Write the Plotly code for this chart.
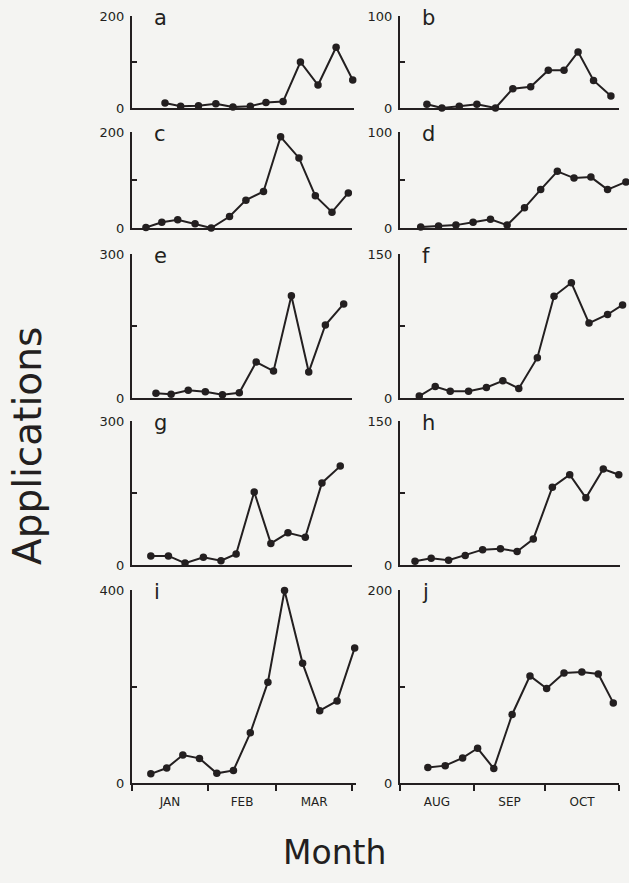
import plotly.graph_objects as go

# ---------------- data ----------------
panel_labels = ["a", "b", "c", "d", "e", "f", "g", "h", "i", "j"]

# x = day of the three-month period, y = number of applications
a_days = [13.5, 19.9, 27.2, 34.3, 41.3, 48.4, 54.8, 61.8, 68.9, 76.1, 83.5, 90.3]
a_vals = [11, 4, 5, 9, 2, 4, 12, 14, 100, 50, 132, 61]

b_days = [11.3, 17.6, 24.9, 32.3, 40.1, 47.4, 54.9, 62.3, 68.9, 74.8, 81.3, 88.6]
b_vals = [4, 0, 2, 4, 0, 21, 23, 41, 41, 61, 30, 13]

c_days = [5.7, 12.2, 18.7, 25.8, 32.4, 39.9, 46.6, 53.8, 60.8, 68.3, 75.0, 81.8, 88.5]
c_vals = [1, 12, 17, 9, 0, 24, 58, 76, 190, 146, 67, 33, 73]

d_days = [8.7, 16.2, 23.5, 30.7, 38.0, 45.0, 52.3, 59.1, 66.1, 73.1, 80.2, 87.2, 94.9]
d_vals = [1, 2, 3, 6, 9, 3, 21, 40, 59, 52, 53, 40, 48]

e_days = [9.8, 16.0, 23.0, 30.0, 37.0, 43.9, 50.8, 57.9, 65.2, 72.3, 79.1, 86.6]
e_vals = [10, 8, 16, 13, 7, 11, 75, 56, 213, 54, 152, 196]

f_days = [8.1, 14.8, 21.1, 28.8, 36.3, 43.2, 49.9, 57.7, 64.7, 72.0, 79.4, 87.2, 93.5]
f_vals = [2, 12, 7, 7, 11, 18, 10, 42, 106, 120, 78, 87, 97]

g_days = [7.7, 14.9, 21.7, 29.2, 36.4, 42.6, 50.0, 56.8, 63.8, 70.9, 77.7, 85.2]
g_vals = [19, 19, 4, 16, 9, 23, 152, 45, 67, 58, 171, 206]

h_days = [6.3, 13.1, 20.4, 27.4, 34.7, 42.2, 49.2, 56.0, 64.0, 71.3, 78.1, 85.4, 91.9]
h_vals = [4, 7, 5, 10, 16, 17, 14, 27, 81, 94, 70, 100, 94]

i_days = [7.7, 14.2, 20.8, 27.6, 34.7, 41.5, 48.4, 55.6, 62.4, 69.8, 76.8, 83.9, 91.1]
i_vals = [19, 31, 58, 51, 20, 26, 104, 209, 399, 248, 150, 170, 280]

j_days = [11.7, 19.0, 26.3, 32.6, 39.4, 47.1, 54.6, 61.6, 68.9, 76.4, 83.3, 89.6]
j_vals = [16, 18, 26, 36, 15, 71, 111, 98, 114, 115, 113, 83]

y_max = [200, 100, 200, 100, 300, 150, 300, 150, 400, 200]

left_months = ["JAN", "FEB", "MAR"]
left_month_days = [31, 28, 31]
right_months = ["AUG", "SEP", "OCT"]
right_month_days = [31, 30, 31]

y_title = "Applications"
x_title = "Month"

# ---------------- layout geometry ----------------
W, H = 629, 883
INK = "#231f20"
BG = "#f4f4f2"
FONT = "DejaVu Sans"

col_px = [(132, 352), (400, 619)]
row_px = [(16, 108), (132, 228), (254, 398), (421, 565), (590, 783)]

all_days = [a_days, b_days, c_days, d_days, e_days, f_days, g_days, h_days, i_days, j_days]
all_vals = [a_vals, b_vals, c_vals, d_vals, e_vals, f_vals, g_vals, h_vals, i_vals, j_vals]


def cum(lengths):
    out = [0]
    for n in lengths:
        out.append(out[-1] + n)
    return out


fig = go.Figure()
annotations = []
layout = {}

for k in range(10):
    row, col = divmod(k, 2)
    n = k + 1
    xname = "x" if n == 1 else f"x{n}"
    yname = "y" if n == 1 else f"y{n}"
    xa = "xaxis" if n == 1 else f"xaxis{n}"
    ya = "yaxis" if n == 1 else f"yaxis{n}"

    x0, x1 = col_px[col]
    top, bot = row_px[row]
    months = left_months if col == 0 else right_months
    edges = cum(left_month_days if col == 0 else right_month_days)
    mids = [(edges[m] + edges[m + 1]) / 2 for m in range(3)]

    # keep the px-per-day scale, but let the range cover every point
    px_per_day = (x1 - x0) / edges[-1]
    x_end = max(edges[-1], max(all_days[k]) + 0.6)
    x1k = x0 + px_per_day * x_end

    fig.add_trace(go.Scatter(
        x=all_days[k], y=all_vals[k], mode="lines+markers",
        line=dict(color=INK, width=2),
        marker=dict(color=INK, size=7.5),
        cliponaxis=False, showlegend=False, hoverinfo="skip",
        xaxis=xname, yaxis=yname,
    ))

    bottom_row = row == 4
    xdict = dict(
        domain=[x0 / W, x1k / W], anchor=yname, automargin=False,
        range=[0, x_end], showgrid=False, zeroline=False,
        showline=True, linecolor=INK, linewidth=2,
        ticks="", showticklabels=bottom_row, fixedrange=True,
    )
    if bottom_row:
        xdict.update(
            tickmode="array", tickvals=mids, ticktext=months,
            tickfont=dict(family=FONT, size=12, color=INK),
            ticklabelstandoff=7,
            minor=dict(tickmode="array", tickvals=edges, ticks="outside",
                       ticklen=6, tickwidth=2, tickcolor=INK),
        )
    layout[xa] = xdict

    ym = y_max[k]
    layout[ya] = dict(
        domain=[1 - bot / H, 1 - top / H], anchor=xname, automargin=False,
        range=[0, ym], showgrid=False, zeroline=False,
        showline=True, linecolor=INK, linewidth=2,
        tickmode="array", tickvals=[0, ym / 2, ym],
        ticktext=["0", "", str(ym)],
        ticks="inside", ticklen=5, tickwidth=2, tickcolor=INK,
        tickfont=dict(family=FONT, size=13, color=INK),
        ticklabelstandoff=3,
        fixedrange=True,
    )

    annotations.append(dict(
        text=panel_labels[k], xref="paper", yref="paper",
        x=(x0 + 20) / W, y=1 - top / H, xanchor="left", yanchor="middle",
        yshift=-2, showarrow=False,
        font=dict(family=FONT, size=21, color=INK),
    ))

annotations.append(dict(
    text=y_title, xref="paper", yref="paper", x=27 / W, y=1 - 446 / H,
    xanchor="center", yanchor="middle", textangle=-90, showarrow=False,
    font=dict(family=FONT, size=39, color=INK),
))
annotations.append(dict(
    text=x_title, xref="paper", yref="paper", x=334 / W, y=1 - 852 / H,
    xanchor="center", yanchor="middle", showarrow=False,
    font=dict(family=FONT, size=33, color=INK),
))

fig.update_layout(
    width=W, height=H, autosize=False,
    margin=dict(l=0, r=0, t=0, b=0, pad=0, autoexpand=False),
    paper_bgcolor=BG, plot_bgcolor=BG,
    annotations=annotations,
    showlegend=False,
    hovermode=False,
    **layout,
)

fig.write_html(
    "out.html",
    config={"displayModeBar": False, "responsive": False},
    post_script=(
        "document.body.style.margin='0';"
        "document.body.style.padding='0';"
        f"document.body.style.background='{BG}';"
        "document.documentElement.style.overflow='hidden';"
    ),
)
